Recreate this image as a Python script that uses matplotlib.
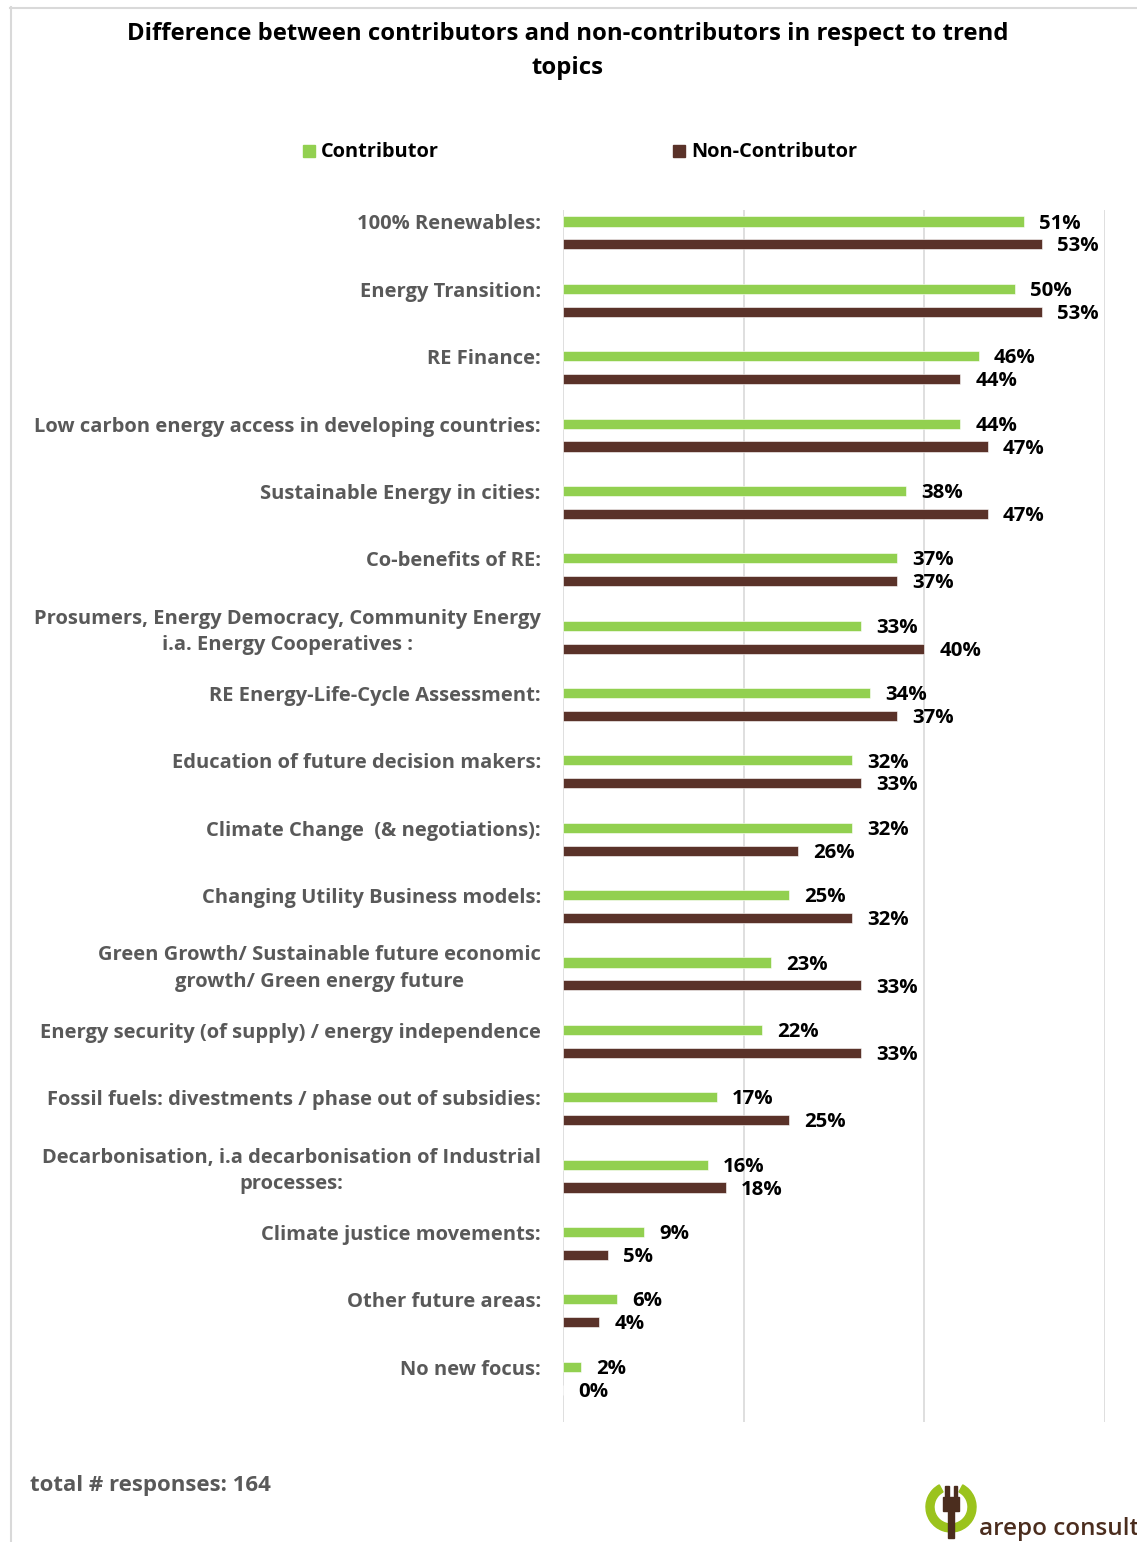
import numpy as np
import matplotlib
matplotlib.use("Agg")
import matplotlib.pyplot as plt
from matplotlib.patches import Rectangle, Wedge
from matplotlib.transforms import ScaledTranslation

plt.rcParams['font.family'] = ['Open Sans', 'DejaVu Sans']
plt.rcParams['font.weight'] = 'bold'

topics = [
    "100% Renewables:",
    "Energy Transition:",
    "RE Finance:",
    "Low carbon energy access in developing countries:",
    "Sustainable Energy in cities:",
    "Co-benefits of RE:",
    "Prosumers, Energy Democracy, Community Energy\ni.a. Energy Cooperatives :",
    "RE Energy-Life-Cycle Assessment:",
    "Education of future decision makers:",
    "Climate Change  (& negotiations):",
    "Changing Utility Business models:",
    "Green Growth/ Sustainable future economic\ngrowth/ Green energy future",
    "Energy security (of supply) / energy independence",
    "Fossil fuels: divestments / phase out of subsidies:",
    "Decarbonisation, i.a decarbonisation of Industrial\nprocesses:",
    "Climate justice movements:",
    "Other future areas:",
    "No new focus:",
]
contributor = [51, 50, 46, 44, 38, 37, 33, 34, 32, 32, 25, 23, 22, 17, 16, 9, 6, 2]
non_contributor = [53, 53, 44, 47, 47, 37, 40, 37, 33, 26, 32, 33, 33, 25, 18, 5, 4, 0]
series_names = ["Contributor", "Non-Contributor"]
x_ticks = [0, 20, 40, 60]
total_responses = 164

GREEN = '#92d050'
BROWN = '#5a3229'
LABEL_GRAY = '#595959'
W, H = 1137, 1542

fig = plt.figure(figsize=(W / 100, H / 100), dpi=100)

# overlay in pixel units for frame, title, legend, footer and logo
ov = fig.add_axes([0, 0, 1, 1])
ov.set_xlim(0, W)
ov.set_ylim(H, 0)
ov.axis('off')
ov.plot([10, W], [7.5, 7.5], color='#d9d9d9', lw=1.5)
ov.plot([10.5, 10.5], [7, H], color='#d9d9d9', lw=1.5)

ov.text(568, 51, "Difference between contributors and non-contributors in respect to trend\ntopics",
        ha='center', va='center', fontsize=17.2, color='black', linespacing=1.6)

for (x0, name, col) in [(303, series_names[0], GREEN), (673, series_names[1], BROWN)]:
    ov.add_patch(Rectangle((x0, 145), 12, 12, color=col))
    ov.text(x0 + 18, 152, name, ha='left', va='center', fontsize=14.4, color='black')

ov.text(30, 1486, f"total # responses: {total_responses}", ha='left', va='center',
        fontsize=16, color=LABEL_GRAY)

# arepo consult logo
ov.add_patch(Wedge((951, 1507), 25, -62, 242, width=8, color='#9bc31c'))
ov.add_patch(Rectangle((948, 1500), 6, 38, color='#4b2d1e'))
ov.add_patch(Rectangle((943, 1497), 16, 14, color='#4b2d1e'))
ov.add_patch(Rectangle((945, 1486), 3.5, 12, color='#4b2d1e'))
ov.add_patch(Rectangle((953.5, 1486), 3.5, 12, color='#4b2d1e'))
ov.text(979, 1529, "arepo consult", ha='left', va='center', fontsize=17.5,
        fontweight='semibold', color='#4b2d1e')

# bar chart
ax = fig.add_axes([563 / W, 1 - 1422 / H, 542 / W, 1212 / H])
y = np.arange(len(topics))
bh = 0.15
off = 0.17
b1 = ax.barh(y - off, contributor, height=bh, color=GREEN, edgecolor='white', linewidth=0.4, zorder=3)
b2 = ax.barh(y + off, non_contributor, height=bh, color=BROWN, edgecolor='white', linewidth=0.4, zorder=3)

for bars, vals in [(b1, contributor), (b2, non_contributor)]:
    for rect, v in zip(bars, vals):
        ax.annotate(f"{v}%", (v, rect.get_y() + rect.get_height() / 2),
                    xytext=(11, -1.5), textcoords='offset points',
                    ha='left', va='center', fontsize=14.7, color='black')

ax.set_xlim(0, 60)
ax.set_ylim(len(topics) - 0.35, -0.34)
ax.set_xticks(x_ticks)
ax.tick_params(axis='x', length=0, labelbottom=False)
ax.grid(axis='x', color='#d9d9d9', linewidth=1.2, zorder=0)
for s in ax.spines.values():
    s.set_visible(False)
ax.set_yticks(y)
ax.set_yticklabels(topics, fontsize=14.5, color=LABEL_GRAY, multialignment='center',
                   linespacing=1.45)
ax.tick_params(axis='y', length=0, pad=16)
for lab in ax.get_yticklabels():
    lab.set_transform(lab.get_transform() + ScaledTranslation(0, 0.11, fig.dpi_scale_trans))
ax.patch.set_alpha(0)

fig.savefig("out.png", dpi=100)
